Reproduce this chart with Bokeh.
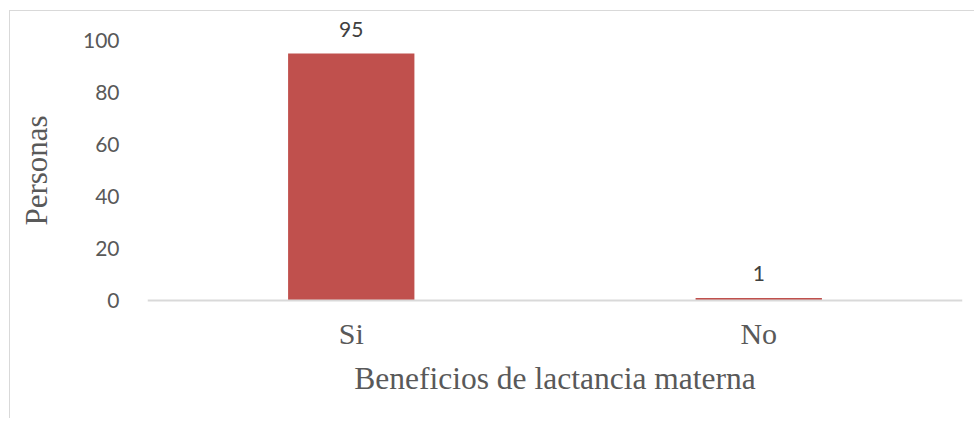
from bokeh.plotting import figure
from bokeh.models import FactorRange, Range1d, FixedTicker, ColumnDataSource, LabelSet, Span
from bokeh.core.properties import value
from bokeh.embed import file_html
from bokeh.resources import INLINE

categories = ["Si", "No"]
values = [95, 1]
y_ticks = [0, 20, 40, 60, 80, 100]
x_title = "Beneficios de lactancia materna"
y_title = "Personas"

src = ColumnDataSource(dict(cat=categories, val=values, lab=[str(v) for v in values]))

p = figure(width=965, height=408, x_range=FactorRange(*categories),
           y_range=Range1d(-11.154, 111.154), output_backend="svg", toolbar_location=None,
           min_border_left=137, min_border_right=13, min_border_top=0, min_border_bottom=90)
p.x_range.range_padding = 0
p.outline_line_color = None
p.grid.visible = False
p.background_fill_color = "white"
p.border_fill_color = "white"

p.vbar(x="cat", top="val", bottom=0, width=0.31, source=src, color="#C0504D", line_color=None)
p.add_layout(Span(location=0, dimension="width", line_color="#d9d9d9", line_width=2))

labels = LabelSet(x="cat", y="val", text="lab", source=src, text_align="center",
                  text_baseline="alphabetic", y_offset=17, text_font=value("Lato"),
                  text_font_size="21px", text_color="#404040")
p.add_layout(labels)

# y axis
ya = p.yaxis[0]
ya.ticker = FixedTicker(ticks=y_ticks)
ya.axis_line_color = None
ya.major_tick_line_color = None
ya.minor_tick_line_color = None
ya.major_label_standoff = 22
ya.major_label_text_font = "Lato"
ya.major_label_text_font_size = "21px"
ya.major_label_text_color = "#595959"
ya.axis_label = y_title
ya.axis_label_text_font = "Liberation Serif"
ya.axis_label_text_font_style = "normal"
ya.axis_label_text_font_size = "31px"
ya.axis_label_text_color = "#595959"
ya.axis_label_standoff = 26

# x axis (its line is the Span at y = 0)
xa = p.xaxis[0]
xa.axis_line_color = None
xa.major_tick_line_color = None
xa.minor_tick_line_color = None
xa.major_label_standoff = -19
xa.major_label_text_font = "Liberation Serif"
xa.major_label_text_font_size = "30px"
xa.major_label_text_color = "#595959"
xa.axis_label = x_title
xa.axis_label_text_font = "Liberation Serif"
xa.axis_label_text_font_style = "normal"
xa.axis_label_text_font_size = "31.5px"
xa.axis_label_text_color = "#595959"
xa.axis_label_standoff = 8

p.styles = {"margin-left": "9px", "margin-top": "10px",
            "border-left": "1px solid #d9d9d9", "border-top": "1px solid #d9d9d9"}

open("out.html", "w").write(file_html(p, INLINE))
